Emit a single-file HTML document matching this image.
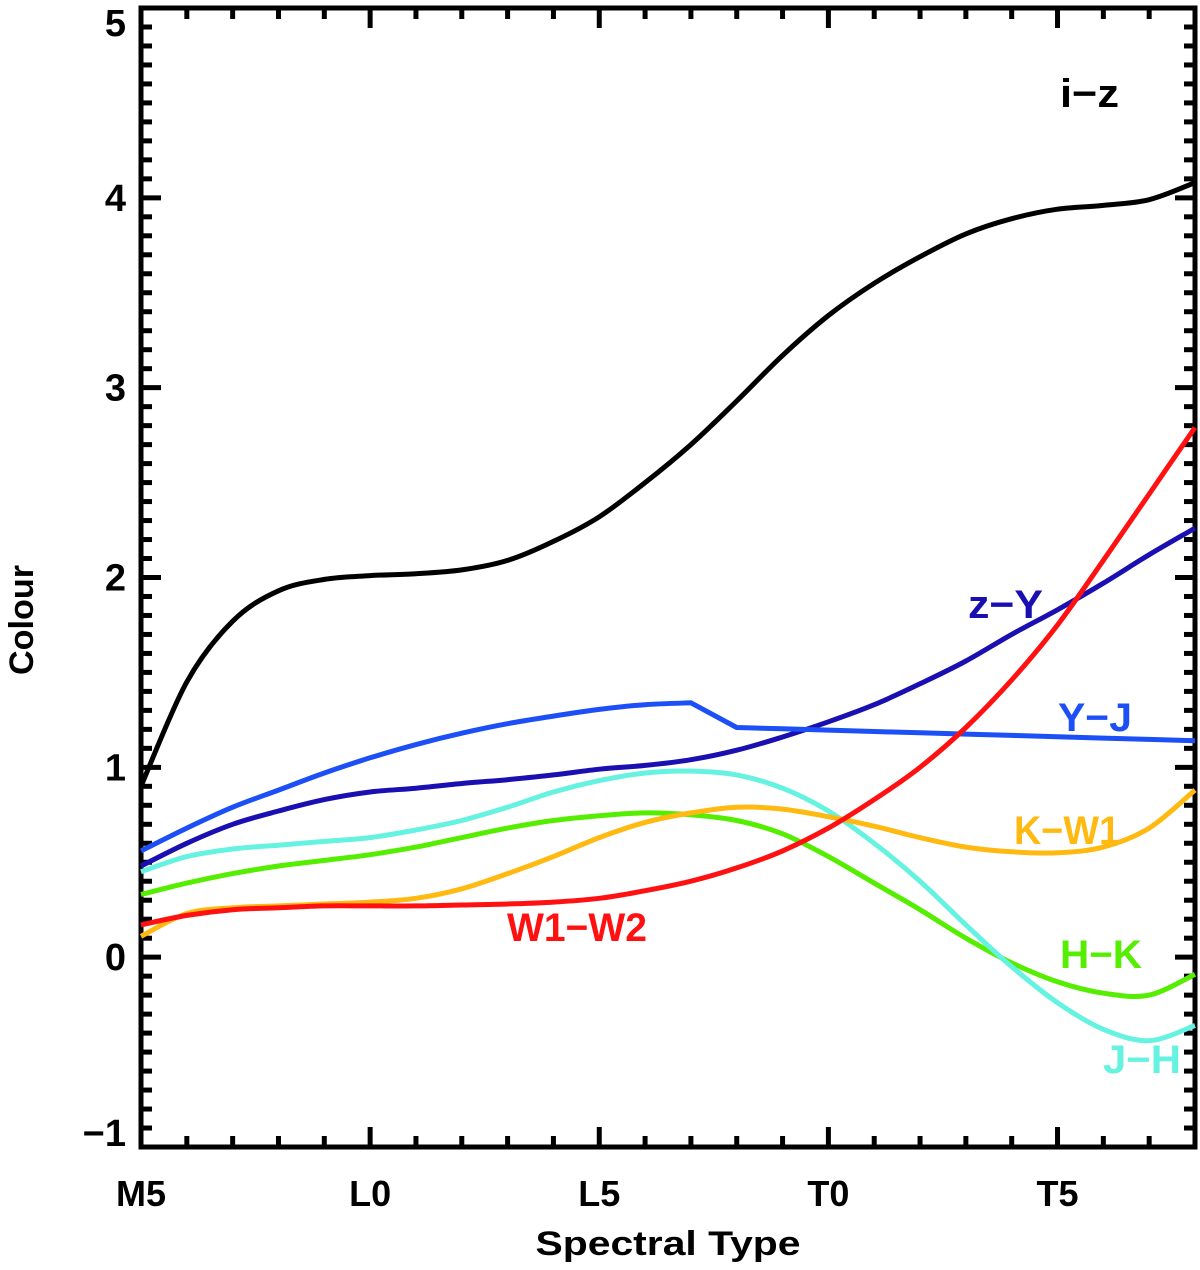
<!DOCTYPE html>
<html><head><meta charset="utf-8"><style>
html,body{margin:0;padding:0;background:#fff;}
svg{display:block;font-family:"Liberation Sans",sans-serif;font-weight:bold;}
</style></head><body>
<svg id="chart" width="1200" height="1270" viewBox="0 0 1200 1270" xmlns="http://www.w3.org/2000/svg">
<g id="axes"></g>
<g id="series"></g>
<g id="labels"></g>
<text x="668" y="1255" font-size="34" text-anchor="middle" textLength="265" lengthAdjust="spacingAndGlyphs">Spectral Type</text>
<text transform="translate(33,620) rotate(-90)" font-size="34" text-anchor="middle" textLength="110" lengthAdjust="spacingAndGlyphs">Colour</text>
</svg>
<script>
const xTickLabels = ["M5","L0","L5","T0","T5"];
const yTickValues = [-1,0,1,2,3,4,5];
const iz   = [0.9,1.45,1.77,1.93,1.99,2.01,2.02,2.04,2.09,2.19,2.32,2.50,2.70,2.93,3.17,3.38,3.55,3.69,3.81,3.89,3.94,3.96,3.99,4.08];
const zY   = [0.48,0.60,0.70,0.77,0.83,0.87,0.89,0.915,0.935,0.96,0.99,1.01,1.04,1.09,1.16,1.24,1.33,1.44,1.56,1.70,1.83,1.97,2.12,2.26];
const YJ   = [0.56,0.68,0.79,0.88,0.97,1.05,1.12,1.18,1.23,1.27,1.305,1.33,1.34,1.21,1.203,1.196,1.189,1.182,1.175,1.168,1.161,1.154,1.147,1.14];
const JH   = [0.45,0.53,0.57,0.59,0.61,0.63,0.67,0.72,0.79,0.87,0.93,0.97,0.98,0.96,0.89,0.77,0.60,0.40,0.17,-0.05,-0.24,-0.38,-0.44,-0.36];
const HK   = [0.33,0.39,0.44,0.48,0.51,0.54,0.58,0.63,0.68,0.72,0.745,0.76,0.75,0.72,0.65,0.53,0.39,0.25,0.10,-0.03,-0.13,-0.19,-0.20,-0.09];
const KW1  = [0.11,0.23,0.26,0.27,0.28,0.29,0.31,0.36,0.44,0.53,0.63,0.71,0.76,0.79,0.78,0.74,0.69,0.63,0.58,0.555,0.55,0.58,0.68,0.88];
const W1W2 = [0.17,0.22,0.25,0.26,0.27,0.27,0.27,0.275,0.28,0.29,0.31,0.35,0.40,0.47,0.56,0.68,0.83,1.00,1.21,1.46,1.75,2.09,2.44,2.79];

const L=141,R=1195,T=8,B=1147, XMAX=23, YMIN=-1, YMAX=5;
const sx = i => L + (R-L)*i/XMAX;
const sy = v => B - (B-T)*(v-YMIN)/(YMAX-YMIN);
const NS="http://www.w3.org/2000/svg";
function mk(tag, attrs, parent){const e=document.createElementNS(NS,tag);for(const k in attrs)e.setAttribute(k,attrs[k]);parent.appendChild(e);return e;}

const axes=document.getElementById('axes');
const frame=mk('rect',{x:L,y:T,width:R-L,height:B-T,fill:'none',stroke:'#000','stroke-width':5},axes);


for(let i=0;i<=XMAX;i++){
  const x=sx(i), len=(i%5===0)?20:11;
  const t1=mk('line',{x1:x,y1:B,x2:x,y2:B-len,stroke:'#000','stroke-width':5},axes);
  
  
  const t2=mk('line',{x1:x,y1:T,x2:x,y2:T+len,stroke:'#000','stroke-width':5},axes);
  
  
}
xTickLabels.forEach((lab,k)=>{
  const t=mk('text',{x:sx(k*5),y:1206,'font-size':36,'text-anchor':'middle'},axes);
  t.textContent=lab;
  
  
});
for(let k=0;k<=60;k++){
  const v=YMIN+k*0.1, y=sy(v), len=(k%10===0)?20:11;
  const a=mk('line',{x1:L,y1:y,x2:L+len,y2:y,stroke:'#000','stroke-width':5},axes);
  
  
  const b=mk('line',{x1:R,y1:y,x2:R-len,y2:y,stroke:'#000','stroke-width':5},axes);
  
  
}
yTickValues.forEach(v=>{
  let y=sy(v)+13;
  if(v===YMAX) y=sy(v)+28;
  if(v===YMIN) y=sy(v)-1;
  const t=mk('text',{x:126,y:y,'font-size':38,'text-anchor':'end'},axes);
  t.textContent=(v<0?'\u2212':'')+Math.abs(v);
  
  
});

function splinePath(vals, from, to){
  const p=[];for(let i=from;i<=to;i++)p.push([sx(i),sy(vals[i])]);
  let d='M'+p[0][0].toFixed(1)+','+p[0][1].toFixed(1);
  for(let i=0;i<p.length-1;i++){
    const p0=p[Math.max(0,i-1)],p1=p[i],p2=p[i+1],p3=p[Math.min(p.length-1,i+2)];
    const c1=[p1[0]+(p2[0]-p0[0])/6,p1[1]+(p2[1]-p0[1])/6];
    const c2=[p2[0]-(p3[0]-p1[0])/6,p2[1]-(p3[1]-p1[1])/6];
    d+=' C'+c1.map(n=>n.toFixed(1))+' '+c2.map(n=>n.toFixed(1))+' '+p2.map(n=>n.toFixed(1));
  }
  return d;
}
const ser=document.getElementById('series');
function addSeries(vals,color,name,linearFrom){
  let d;
  if(linearFrom!==undefined){
    d=splinePath(vals,0,linearFrom);
    for(let i=linearFrom+1;i<vals.length;i++) d+=' L'+sx(i).toFixed(1)+','+sy(vals[i]).toFixed(1);
  } else d=splinePath(vals,0,vals.length-1);
  const p=mk('path',{d:d,fill:'none',stroke:color,'stroke-width':5,'stroke-linejoin':'round'},ser);
  
  
}
addSeries(HK,'#55ee00','h-k-line');
addSeries(JH,'#66f2e0','j-h-line');
addSeries(KW1,'#ffb911','k-w1-line');
addSeries(zY,'#1a0fb0','z-y-line');
addSeries(YJ,'#1c4ff5','y-j-line',12);
addSeries(W1W2,'#ff1111','w1-w2-line');
addSeries(iz,'#000000','i-z-line');

const labs=[
 ['i\u2212z',1060,107,59,'#000','i-z-label'],
 ['z\u2212Y',968,618,75,'#1a0fb0','z-y-label'],
 ['Y\u2212J',1058,731,74,'#1c4ff5','y-j-label'],
 ['K\u2212W1',1014,844,106,'#ffb911','k-w1-label'],
 ['H\u2212K',1060,968,82,'#55ee00','h-k-label'],
 ['J\u2212H',1103,1073,78,'#66f2e0','j-h-label'],
 ['W1\u2212W2',507,941,140,'#ff1111','w1-w2-label']
];
const lg=document.getElementById('labels');
labs.forEach(l=>{
  const t=mk('text',{x:l[1],y:l[2],'font-size':40,fill:l[4],textLength:l[3],lengthAdjust:'spacingAndGlyphs'},lg);
  t.textContent=l[0];
  
  
});
</script>
</body></html>
